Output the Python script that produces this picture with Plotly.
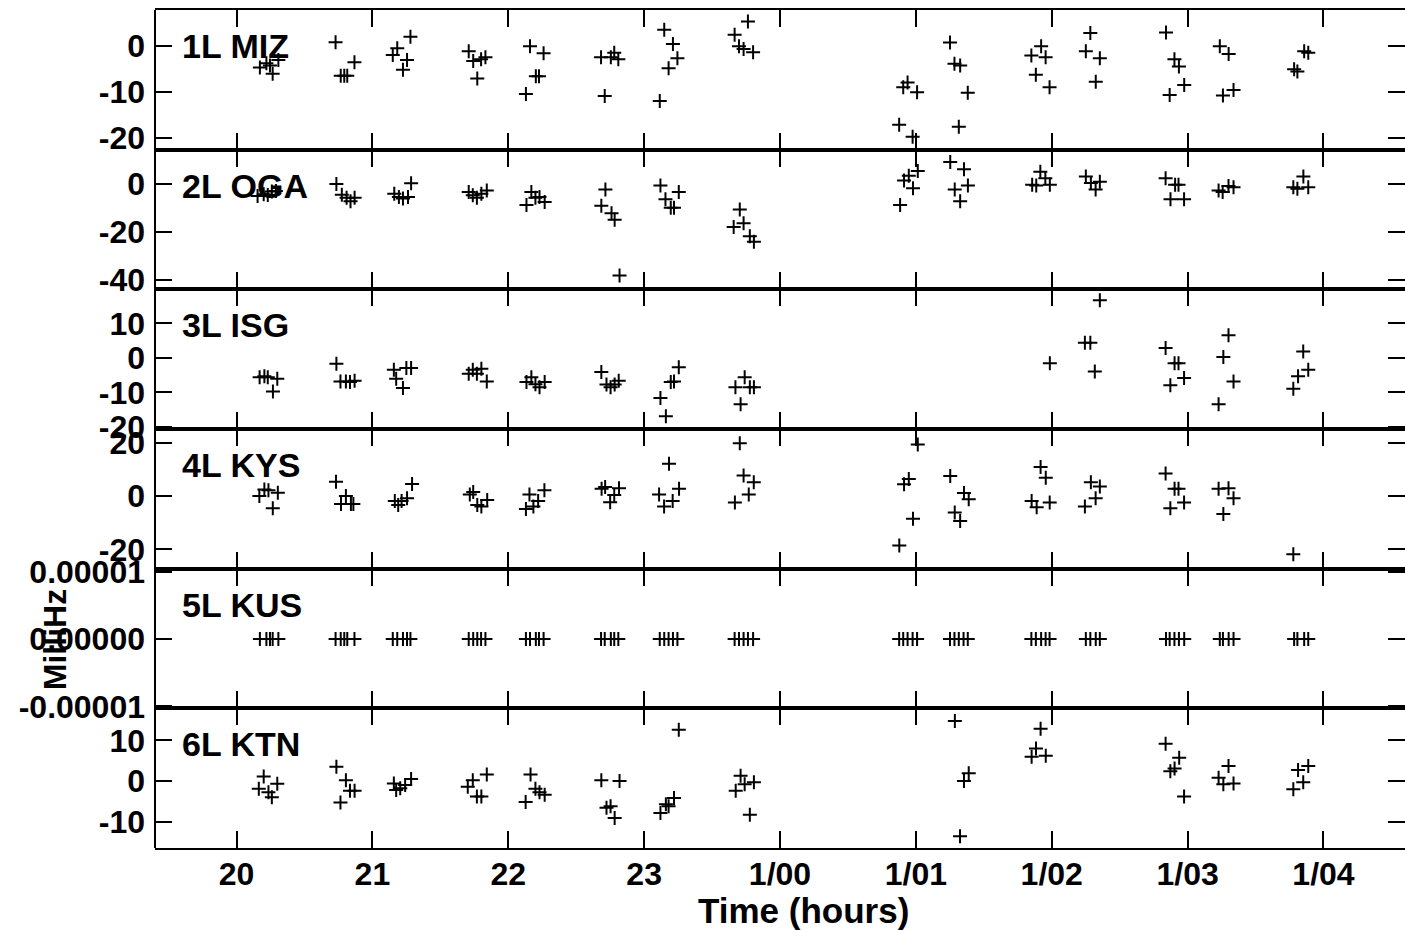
import plotly.graph_objects as go
from plotly.subplots import make_subplots

# ---------------- data ----------------
hour_ticks = [20, 21, 22, 23, 24, 25, 26, 27, 28]
hour_labels = ["20", "21", "22", "23", "1/00", "1/01", "1/02", "1/03", "1/04"]

panel_names = ["1L MIZ", "2L OGA", "3L ISG", "4L KYS", "5L KUS", "6L KTN"]

t1 = [20.172, 20.22, 20.246, 20.266, 20.308, 20.729, 20.767, 20.793, 20.815, 20.868,
      21.15, 21.183, 21.225, 21.255, 21.28, 21.709, 21.742, 21.772, 21.80, 21.832,
      22.13, 22.16, 22.203, 22.226, 22.26, 22.683, 22.71, 22.755, 22.78, 22.81,
      23.115, 23.148, 23.18, 23.212, 23.245, 23.666, 23.698, 23.732, 23.764, 23.802,
      24.877, 24.907, 24.939, 24.976, 25.009, 25.251, 25.284, 25.316, 25.326, 25.382,
      25.85, 25.883, 25.922, 25.955, 25.984, 26.251, 26.284, 26.324, 26.354,
      26.841, 26.868, 26.903, 26.936, 26.975, 27.237, 27.26, 27.302, 27.338,
      27.784, 27.808, 27.858, 27.888]
v1 = [-4.7, -3.8, -4.3, -6.1, -3.1, 0.8, -6.5, -6.5, -6.5, -3.6,
      -2.0, -0.5, -5.2, -3.1, 2.0, -1.2, -3.3, -7.1, -2.9, -2.5,
      -10.5, -0.1, -6.6, -6.6, -1.6, -2.5, -10.9, -2.5, -1.5, -2.9,
      -12.0, 3.5, -4.9, 0.4, -2.7, 2.4, -0.1, -0.7, 5.3, -1.4,
      -17.2, -9.0, -8.0, -19.8, -10.1, 0.7, -3.9, -17.6, -4.3, -10.2,
      -2.1, -6.3, -0.1, -2.5, -9.0, -1.2, 2.8, -7.8, -2.7,
      2.9, -10.7, -2.9, -4.5, -8.5, -0.1, -10.8, -1.8, -9.6,
      -5.1, -5.6, -1.2, -1.5]

t2 = [20.155, 20.2, 20.23, 20.26, 20.29, 20.735, 20.775, 20.81, 20.839, 20.869,
      21.161, 21.195, 21.225, 21.262, 21.285, 21.709, 21.739, 21.769, 21.802, 21.842,
      22.134, 22.17, 22.2, 22.23, 22.268, 22.685, 22.715, 22.76, 22.783, 22.819,
      23.12, 23.157, 23.196, 23.22, 23.255, 23.659, 23.704, 23.732, 23.778, 23.808,
      24.884, 24.913, 24.948, 24.979, 25.014, 25.253, 25.286, 25.326, 25.354, 25.383,
      25.856, 25.886, 25.916, 25.953, 25.986, 26.251, 26.288, 26.323, 26.354,
      26.838, 26.874, 26.908, 26.933, 26.974, 27.228, 27.258, 27.301, 27.338,
      27.778, 27.808, 27.852, 27.888]
v2 = [-5.0, -4.3, -4.6, -3.2, -3.0, 0.0, -4.5, -5.8, -7.2, -5.8,
      -4.1, -5.4, -6.1, -5.4, 0.3, -3.4, -4.7, -5.8, -4.1, -2.7,
      -8.8, -3.4, -5.8, -5.4, -7.5, -9.1, -2.3, -12.2, -14.9, -38.0,
      -0.7, -6.4, -9.9, -9.9, -3.4, -17.9, -10.6, -16.3, -21.7, -24.0,
      -8.8, 1.4, 3.4, -1.8, 5.4, 9.1, -2.3, -7.2, 6.1, -0.7,
      -0.4, -0.7, 5.0, 2.3, -0.4, 3.1, 0.4, -2.3, 0.9,
      2.3, -6.4, -0.4, -0.4, -6.4, -2.7, -3.4, -0.9, -1.4,
      -1.4, -2.0, 3.1, -1.4]

t3 = [20.17, 20.205, 20.23, 20.268, 20.3, 20.735, 20.765, 20.805, 20.835, 20.869,
      21.158, 21.175, 21.225, 21.25, 21.285, 21.709, 21.739, 21.769, 21.802, 21.842,
      22.134, 22.17, 22.2, 22.23, 22.268, 22.685, 22.723, 22.753, 22.783, 22.813,
      23.12, 23.16, 23.196, 23.22, 23.255, 23.672, 23.71, 23.74, 23.778, 23.808,
      25.986, 26.244, 26.284, 26.317, 26.354,
      26.838, 26.873, 26.904, 26.933, 26.974, 27.228, 27.263, 27.301, 27.338,
      27.778, 27.813, 27.851, 27.888]
v3 = [-5.6, -5.3, -5.6, -9.7, -6.0, -1.7, -6.8, -6.8, -7.0, -6.6,
      -3.4, -6.0, -8.7, -2.9, -2.9, -4.6, -3.4, -4.6, -3.1, -6.8,
      -7.0, -5.6, -7.6, -8.5, -7.0, -4.1, -7.7, -8.5, -7.7, -6.6,
      -11.6, -16.9, -7.0, -6.8, -2.7, -8.5, -13.4, -5.6, -8.5, -8.5,
      -1.5, 4.4, 4.4, -3.9, 16.7,
      2.9, -7.9, -1.5, -1.5, -5.8, -13.4, 0.3, 6.6, -6.8,
      -8.9, -5.3, 1.9, -3.4]

t4 = [20.168, 20.205, 20.235, 20.267, 20.304, 20.732, 20.769, 20.805, 20.842, 20.86,
      21.165, 21.19, 21.215, 21.255, 21.292, 21.717, 21.742, 21.772, 21.802, 21.845,
      22.13, 22.156, 22.185, 22.22, 22.266, 22.687, 22.713, 22.75, 22.78, 22.815,
      23.11, 23.147, 23.183, 23.21, 23.257, 23.668, 23.704, 23.732, 23.77, 23.807,
      24.878, 24.913, 24.948, 24.979, 25.014, 25.253, 25.286, 25.326, 25.354, 25.389,
      25.852, 25.889, 25.918, 25.956, 25.985, 26.244, 26.288, 26.323, 26.354,
      26.838, 26.873, 26.904, 26.933, 26.974, 27.228, 27.263, 27.301, 27.338,
      27.778]
v4 = [0.1, 2.5, 2.2, -4.5, 1.3, 5.4, -2.9, 0.1, -2.9, -2.9,
      -1.8, -3.3, -1.8, -0.8, 4.6, 0.6, 1.6, -3.3, -3.9, -1.4,
      -4.8, 0.6, -3.9, -1.8, 2.2, 2.8, 3.4, -2.3, 0.4, 3.0,
      0.6, -3.9, 12.2, -1.8, 2.8, -2.4, 19.9, 7.8, 0.6, 5.2,
      -18.5, 4.5, 6.4, -8.5, 19.4, 7.6, -6.1, -9.3, 1.2, -1.2,
      -1.8, -4.2, 10.9, 6.9, -2.4, -3.9, 5.2, -0.8, 3.6,
      8.5, -4.5, 2.8, 2.8, -2.4, 2.8, -6.7, 3.0, -0.8,
      -21.8]

t5 = [20.172, 20.22, 20.246, 20.266, 20.308, 20.729, 20.767, 20.793, 20.815, 20.868,
      21.15, 21.183, 21.225, 21.255, 21.28, 21.709, 21.742, 21.772, 21.80, 21.832,
      22.13, 22.16, 22.203, 22.226, 22.26, 22.683, 22.71, 22.755, 22.78, 22.81,
      23.115, 23.148, 23.18, 23.212, 23.245, 23.666, 23.698, 23.732, 23.764, 23.802,
      24.877, 24.907, 24.939, 24.976, 25.009, 25.251, 25.284, 25.316, 25.351, 25.382,
      25.85, 25.883, 25.922, 25.955, 25.984, 26.251, 26.284, 26.324, 26.354,
      26.841, 26.868, 26.903, 26.936, 26.975, 27.237, 27.26, 27.302, 27.338,
      27.784, 27.808, 27.858, 27.888]
v5 = [0, 0, 0, 0, 0, 0, 0, 0, 0, 0, 0, 0, 0, 0, 0, 0, 0, 0, 0, 0,
      0, 0, 0, 0, 0, 0, 0, 0, 0, 0, 0, 0, 0, 0, 0, 0, 0, 0, 0, 0,
      0, 0, 0, 0, 0, 0, 0, 0, 0, 0, 0, 0, 0, 0, 0, 0, 0, 0, 0,
      0, 0, 0, 0, 0, 0, 0, 0, 0, 0, 0, 0, 0]

t6 = [20.164, 20.2, 20.235, 20.26, 20.3, 20.735, 20.765, 20.805, 20.835, 20.869,
      21.158, 21.175, 21.205, 21.241, 21.285, 21.702, 21.739, 21.769, 21.802, 21.842,
      22.128, 22.164, 22.2, 22.23, 22.268, 22.685, 22.723, 22.753, 22.783, 22.819,
      23.12, 23.16, 23.18, 23.22, 23.255, 23.674, 23.71, 23.74, 23.778, 23.808,
      25.287, 25.325, 25.354, 25.389, 25.852, 25.884, 25.918, 25.956,
      26.838, 26.873, 26.904, 26.938, 26.974, 27.228, 27.263, 27.301, 27.338,
      27.778, 27.813, 27.851, 27.888]
v6 = [-1.9, 1.1, -2.8, -4.0, -0.7, 3.5, -5.3, 0.2, -2.4, -2.4,
      -0.6, -2.2, -1.8, -1.0, 0.5, -1.4, 0.2, -3.8, -3.8, 1.6,
      -5.2, 1.6, -1.9, -2.8, -3.4, 0.2, -6.6, -6.2, -9.1, 0.0,
      -7.9, -5.7, -6.2, -4.2, 12.6, -2.4, 1.3, -0.8, -8.3, -0.3,
      14.8, -13.6, 0.0, 1.9, 6.0, 8.0, 12.9, 6.2,
      9.2, 2.4, 3.1, 5.7, -3.8, 0.8, -0.8, 3.7, -0.6,
      -2.0, 2.7, -0.3, 3.7]

y_ranges = [[-22.6, 7.8], [-43.75, 14.2], [-20.6, 19.9], [-27.2, 25.2],
            [-1.03e-5, 1.045e-5], [-16.5, 17.9]]
y_tickvals = [[0, -10, -20], [0, -20, -40], [10, 0, -10, -20], [20, 0, -20],
              [1e-5, 0, -1e-5], [10, 0, -10]]
y_ticktext = [["0", "-10", "-20"], ["0", "-20", "-40"], ["10", "0", "-10", "-20"],
              ["20", "0", "-20"], ["0.00001", "0.00000", "-0.00001"],
              ["10", "0", "-10"]]

series_t = [t1, t2, t3, t4, t5, t6]
series_v = [v1, v2, v3, v4, v5, v6]

# ---------------- figure ----------------
FONT = "Liberation Sans, Arial, Helvetica, sans-serif"
fig = make_subplots(rows=6, cols=1, shared_xaxes=True, vertical_spacing=0)

for i in range(6):
    fig.add_trace(go.Scatter(
        x=series_t[i], y=series_v[i], mode="markers",
        marker=dict(symbol="cross-thin", size=10, color="black",
                    line=dict(width=2, color="black")),
        showlegend=False, hoverinfo="skip"), row=i + 1, col=1)
    fig.update_yaxes(range=y_ranges[i], tickvals=y_tickvals[i],
                     ticktext=y_ticktext[i], row=i + 1, col=1)
    fig.add_annotation(text=panel_names[i], xref="paper",
                       yref=("y domain" if i == 0 else f"y{i + 1} domain"),
                       x=0.02, y=0.742, xanchor="left", yanchor="middle",
                       showarrow=False,
                       font=dict(family=FONT, size=34, color="black", weight="bold"))

fig.update_xaxes(range=[19.40, 28.60], tickvals=hour_ticks, ticktext=hour_labels,
                 ticks="inside", ticklen=17, tickwidth=2, tickcolor="black",
                 showline=True, linewidth=2, linecolor="black", mirror="ticks",
                 showgrid=False, zeroline=False, ticklabelstandoff=-3,
                 automargin=False,
                 tickfont=dict(family=FONT, size=32, color="black", weight="bold"))
fig.update_yaxes(ticks="inside", ticklen=17, tickwidth=2, tickcolor="black",
                 showline=False, mirror="ticks", showgrid=False, zeroline=False,
                 ticklabelstandoff=9, automargin=False,
                 tickfont=dict(family=FONT, size=32, color="black", weight="bold"))

# left frame line
fig.add_shape(type="line", xref="paper", yref="paper", x0=0, x1=0, y0=0, y1=1,
              line=dict(color="black", width=2))

fig.add_annotation(text="Time (hours)", xref="paper", yref="paper",
                   x=0.519, y=-0.074, xanchor="center", yanchor="middle",
                   showarrow=False,
                   font=dict(family=FONT, size=35, color="black", weight="bold"))
fig.add_annotation(text="MilliHz", xref="paper", yref="paper",
                   x=-0.08, y=0.248, xanchor="center", yanchor="middle",
                   textangle=-90, showarrow=False,
                   font=dict(family=FONT, size=32, color="black", weight="bold"))

fig.update_layout(width=1405, height=930,
                  margin=dict(l=155, r=0, t=10, b=82, autoexpand=False),
                  paper_bgcolor="white", plot_bgcolor="white",
                  font=dict(family=FONT, color="black"))

fig.write_html("out.html", config={"displayModeBar": False},
               post_script="document.body.style.margin='0';document.body.style.overflow='hidden';")
